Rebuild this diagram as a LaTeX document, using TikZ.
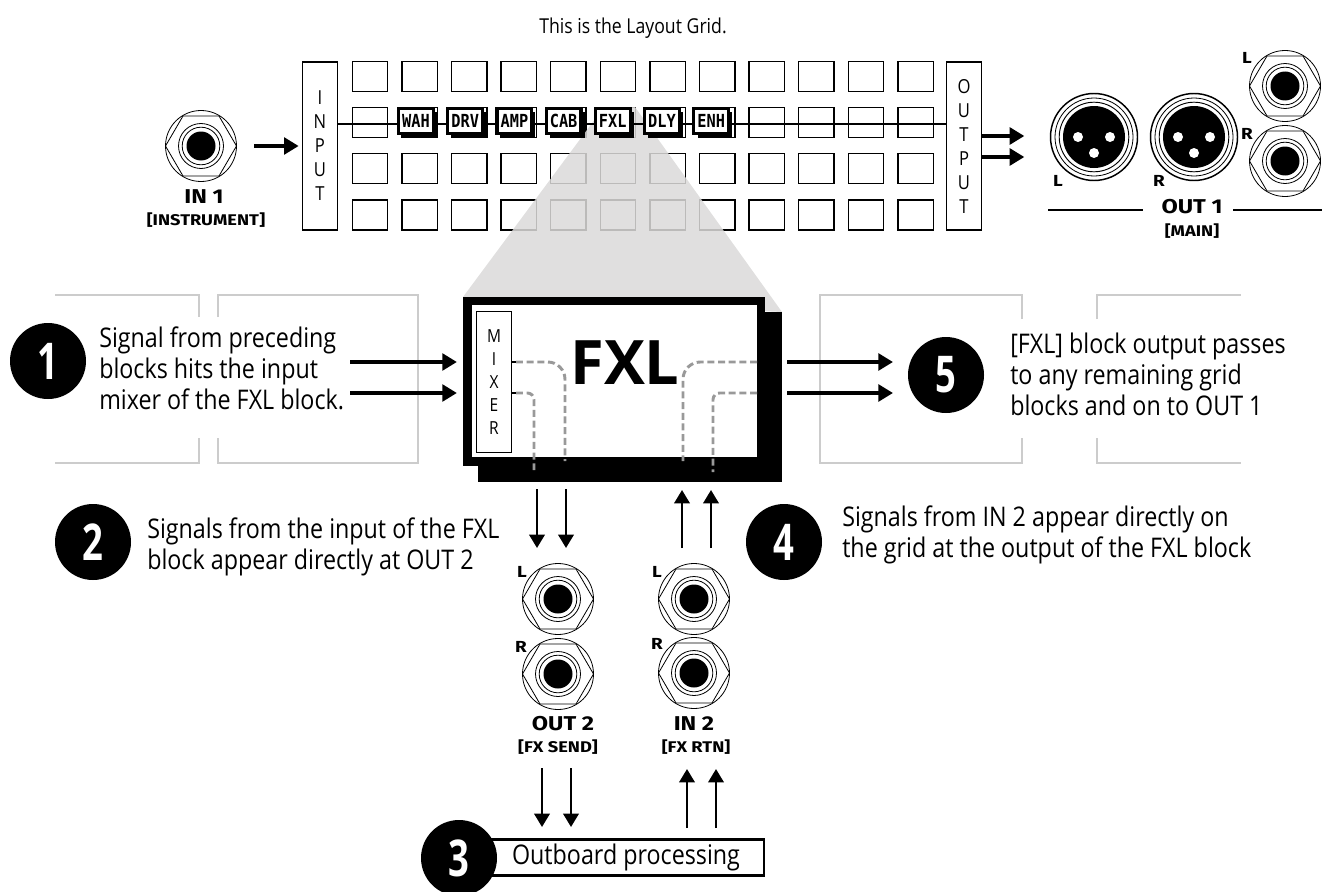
\documentclass[tikz,border=0pt]{standalone}
\usepackage{fontspec}
\setmainfont{Open Sans}[FakeStretch=0.86]
\newfontfamily\panelfont{Fira Sans}[FakeStretch=1.18]
\newfontfamily\digitfont{Open Sans}[FakeStretch=0.72]
\newfontfamily\bigfont{Open Sans}
\newfontfamily\pixelfont{DejaVu Sans Mono}[FakeStretch=0.85]
\usetikzlibrary{arrows.meta,calc,positioning,shadows}
\definecolor{wedge}{RGB}{219,218,217}
\definecolor{ghost}{RGB}{204,204,204}
\definecolor{dashgray}{RGB}{153,153,153}
\tikzset{
  jack/.pic={
    \draw[line width=0.6pt] (0,0) circle[radius=35.5];
    \draw[line width=0.6pt] (-35.5,0) -- (-18,-30) -- (18,-30) -- (35.5,0) -- (18,30) -- (-18,30) -- cycle;
    \draw[line width=0.6pt,fill=white] (0,0) circle[radius=22.5];
    \draw[line width=0.6pt] (0,0) circle[radius=18.8];
    \fill (0,0) circle[radius=14.5];
  },
  xlr/.pic={
    \draw[line width=1.1pt] (0,0) circle[radius=43.5];
    \draw[line width=0.6pt] (0,0) circle[radius=39];
    \draw[line width=0.7pt] (0,0) circle[radius=34.8];
    \fill (0,0) circle[radius=31];
    \fill[white] (-16,0) circle[radius=5] (16,0) circle[radius=5] (0,16) circle[radius=5];
  }
}
\begin{document}
\begin{tikzpicture}[
  x=0.75pt,y=-0.75pt,
  cell/.style={draw,line width=1.1pt,minimum width=26.6pt,minimum height=22.5pt,inner sep=0pt,outer sep=0pt},
  port/.style={draw,line width=1.1pt,fill=white,minimum width=26pt,minimum height=126pt,inner sep=0pt,outer sep=0pt,align=center,font=\fontsize{14.5pt}{18pt}\selectfont},
  blk/.style={draw,line width=2.4pt,fill=white,minimum width=26pt,minimum height=19pt,inner sep=0pt,outer sep=0pt,font=\pixelfont\bfseries\fontsize{13.5pt}{13.5pt}\selectfont,drop shadow={shadow xshift=2.8pt,shadow yshift=-3pt,opacity=1,fill=black}},
  numdot/.style={circle,fill=black,text=white,minimum size=57pt,inner sep=0pt,font=\digitfont\bfseries\fontsize{38pt}{38pt}\selectfont},
  note/.style={anchor=west,align=left,inner sep=0pt,font=\fontsize{20.3pt}{23.25pt}\selectfont},
  jacklab/.style={inner sep=0pt,font=\panelfont\bfseries\fontsize{12pt}{12pt}\selectfont},
  title/.style={inner sep=0pt,font=\panelfont\bfseries\fontsize{15pt}{15pt}\selectfont},
  subtitle/.style={inner sep=0pt,font=\panelfont\bfseries\fontsize{11.6pt}{11.6pt}\selectfont},
  fat/.style={-{Triangle[length=11pt,width=12.5pt]},line width=2.9pt},
  sig/.style={-{Triangle[length=10pt,width=11.5pt]},line width=1.9pt},
  ghostline/.style={draw=ghost,line width=1.3pt},
  inner/.style={draw=dashgray,line width=2.2pt,dash pattern=on 5.2pt off 2.8pt}
]
\clip (0,0) rectangle (1331,892);
\foreach \row/\ypos in {a/76.5,b/122.5,c/168.5,d/215}
  \foreach \col in {0,...,11}
    \node[cell] (\row\col) at ({370+49.6*\col},\ypos) {};
\fill[wedge,fill opacity=0.855] (463,297) -- (604,107) -- (635,107) -- (782,312) -- cycle;

\node[port] (input) at (320,146) {I\\N\\P\\U\\T};
\node[port] (output) at (964,146) {O\\U\\T\\P\\U\\T};
\coordinate (sigin) at (input.east |- 0,123.7);
\coordinate (sigout) at (output.west |- 0,123.7);
\draw[line width=1.5pt] (sigin) -- (sigout);
\node[blk] (wah) at (416,121) {WAH};
\node[blk,right=10.9pt of wah] (drv) {DRV};
\node[blk,right=10.9pt of drv] (amp) {AMP};
\node[blk,right=10.9pt of amp] (cab) {CAB};
\node[blk,right=10.9pt of cab] (fx) {FXL};
\node[blk,right=10.9pt of fx] (dly) {DLY};
\node[blk,right=10.9pt of dly] (enh) {ENH};

\draw[ghostline] (55,295) -- (199,295) -- (199,317);
\draw[ghostline] (218,317) -- (218,295) -- (418,295) -- (418,463) -- (218,463) -- (218,438);
\draw[ghostline] (55,463) -- (199,463) -- (199,438);
\draw[ghostline] (1022,319) -- (1022,295) -- (820,295) -- (820,463) -- (1022,463) -- (1022,438);
\draw[ghostline] (1097,319) -- (1097,295) -- (1241,295);
\draw[ghostline] (1097,438) -- (1097,463) -- (1241,463);

\node[fill=black,minimum width=228pt,minimum height=127.5pt,inner sep=0pt] (fxlshadow) at (630,397) {};
\node[draw,line width=6.6pt,fill=white,minimum width=220pt,minimum height=120.4pt,inner sep=0pt,outer sep=0pt] (fxlbox) at (614.25,381.25) {};
\node[draw,line width=1.1pt,minimum width=26.5pt,minimum height=106pt,inner sep=0pt,outer sep=0pt,align=center,font=\fontsize{13.5pt}{17.2pt}\selectfont] (mixer) at (494,382) {M\\I\\X\\E\\R};
\node[inner sep=0pt,font=\bigfont\bfseries\fontsize{46pt}{46pt}\selectfont] (fxltext) at (625,363) {FXL};
\draw[line width=2pt] (mixer.east |- 0,362) -- ++(5,0);
\draw[line width=2pt] (mixer.east |- 0,393) -- ++(5,0);
\draw[inner,rounded corners=13pt] (516,362) -- (565,362) -- (565,461);
\draw[inner,rounded corners=5pt] (516,393) -- (534,393) -- (534,472);
\draw[inner,rounded corners=13pt] (757,362) -- (683,362) -- (683,461);
\draw[inner,rounded corners=5pt] (757,393) -- (713,393) -- (713,472);

\coordinate (in1) at (201,146);
\pic at (in1) {jack};
\node[title] (in1title) at (204,197) {IN 1};
\node[subtitle] (in1sub) at (206,220) {[INSTRUMENT]};
\draw[fat] ([xshift=40pt]in1) -- ([xshift=-3pt]input.west);
\draw[fat] (output.east |- 0,136) -- ++(43,0);
\draw[fat] (output.east |- 0,157) -- ++(43,0);

\coordinate (xlrl) at (1094,137);
\coordinate (xlrr) at (1194,137);
\coordinate (trsl) at (1285,86);
\coordinate (trsr) at (1285,161);
\pic at (xlrl) {xlr};
\pic at (xlrr) {xlr};
\pic at (trsl) {jack};
\pic at (trsr) {jack};
\node[jacklab] (lxlr) at (1058,181) {L};
\node[jacklab] (rxlr) at (1159,181) {R};
\node[jacklab] (ltrs) at (1247,58) {L};
\node[jacklab] (rtrs) at (1247,134) {R};
\node[title] (out1title) at (1192,207) {OUT 1};
\node[subtitle] (out1sub) at (1192,231) {[MAIN]};
\draw[line width=0.9pt] (1048,210) -- (1143,210);
\draw[line width=0.9pt] (1233,210) -- (1322,210);

\foreach \ypos in {362,393} {
  \draw[fat] (350,\ypos) -- ([xshift=-8pt]fxlbox.west |- 0,\ypos);
  \draw[fat] (787,\ypos) -- (893,\ypos);
}
\foreach \xpos in {537,566}
  \draw[sig] (\xpos,489) -- (\xpos,548);
\foreach \xpos in {682,711}
  \draw[sig] (\xpos,548) -- (\xpos,490);

\coordinate (out2l) at (558,599);
\coordinate (out2r) at (558,674);
\coordinate (in2l) at (694,599);
\coordinate (in2r) at (694,673);
\pic at (out2l) {jack};
\pic at (out2r) {jack};
\pic at (in2l) {jack};
\pic at (in2r) {jack};
\node[jacklab] (lout2) at (522,572) {L};
\node[jacklab] (rout2) at (521,647) {R};
\node[jacklab] (lin2) at (657,572) {L};
\node[jacklab] (rin2) at (657,644) {R};
\node[title] (out2title) at (563,724) {OUT 2};
\node[subtitle] (out2sub) at (558,747) {[FX SEND]};
\node[title] (in2title) at (694,724) {IN 2};
\node[subtitle] (in2sub) at (696,747) {[FX RTN]};

\node[draw,line width=2.2pt,fill=white,minimum width=207pt,minimum height=27pt,inner sep=0pt,outer sep=0pt,font=\fontsize{20.3pt}{23pt}\selectfont] (outboard) at (626,857.5) {Outboard processing};
\foreach \xpos in {542,571}
  \draw[sig] (\xpos,768) -- (\xpos,827);
\foreach \xpos in {687,716}
  \draw[sig] (\xpos,828) -- (\xpos,769);

\node[numdot] (one) at (48,361) {1};
\node[numdot] (two) at (93,542) {2};
\node[numdot] (three) at (459,858) {3};
\node[numdot] (four) at (784,542) {4};
\node[numdot] (five) at (946,375) {5};

\node[inner sep=0pt,font=\fontsize{15.4pt}{18pt}\selectfont] (heading) at (633,28) {This is the Layout Grid.};
\node[note] (note1) at (99,368) {Signal from preceding\\blocks hits the input\\mixer of the FXL block.};
\node[note] (note2) at (147,547) {Signals from the input of the FXL\\block appear directly at OUT 2};
\node[note] (note4) at (842,535) {Signals from IN 2 appear directly on\\the grid at the output of the FXL block};
\node[note] (note5) at (1010,374.5) {[FXL] block output passes\\to any remaining grid\\blocks and on to OUT 1};
\end{tikzpicture}
\end{document}
